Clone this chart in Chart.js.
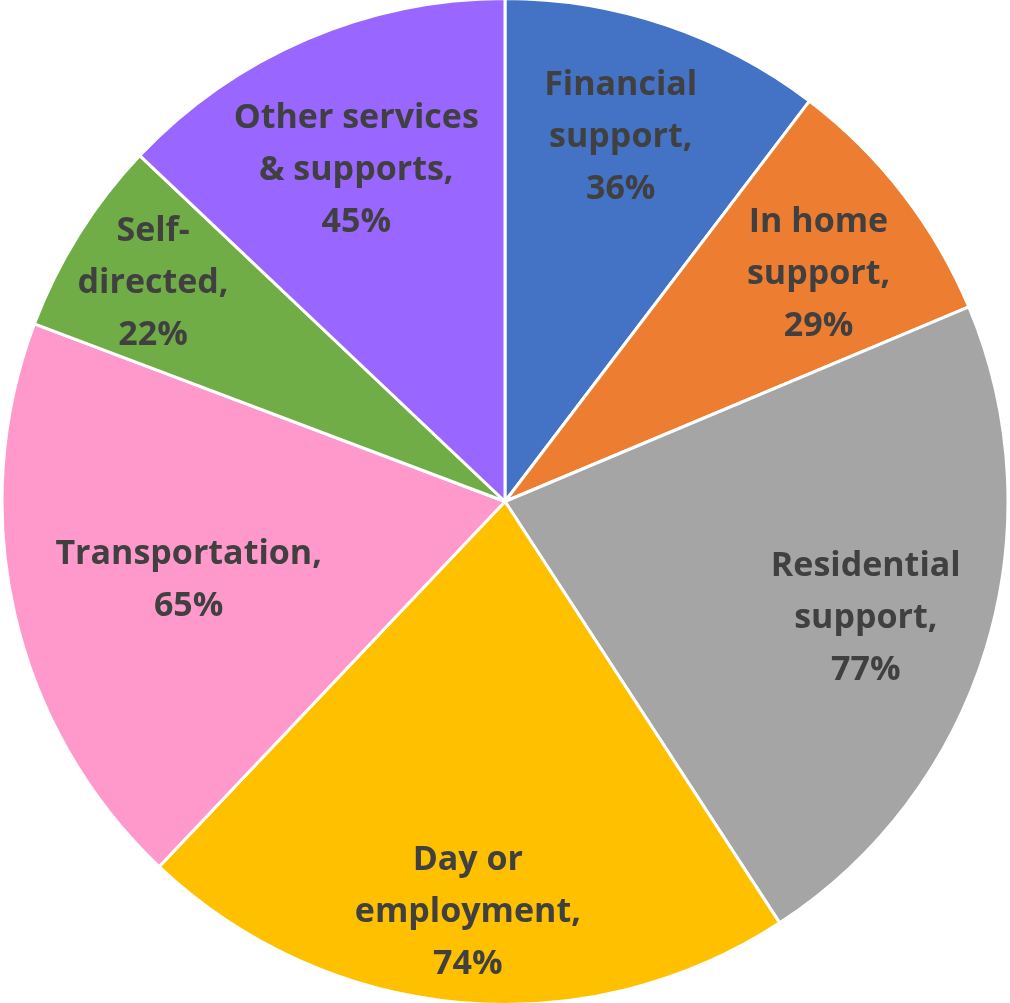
<!DOCTYPE html>
<html>
<head>
<meta charset="utf-8">
<script src="https://cdn.jsdelivr.net/npm/chart.js@4/dist/chart.umd.min.js"></script>
<style>
  html, body { margin: 0; padding: 0; background: #ffffff; overflow: hidden; }
  #wrap { position: absolute; left: -3px; top: -3px; width: 1016px; height: 1009px; }
</style>
</head>
<body>
<div id="wrap"><canvas id="pie"></canvas></div>
<script>
// Service categories (label lines) and the share of respondents using each
const categories = [
  ['Financial', 'support,'],
  ['In home', 'support,'],
  ['Residential', 'support,'],
  ['Day or', 'employment,'],
  ['Transportation,'],
  ['Self-', 'directed,'],
  ['Other services', '& supports,']
];
const percentValues = [36, 29, 77, 74, 65, 22, 45];
const sliceColors = ['#4472C4', '#ED7D31', '#A5A5A5', '#FFC000', '#FF99CC', '#70AD47', '#9966FF'];

// Label placement: distance from the centre (fraction of radius) and a small angular nudge (degrees)
const labelRadius = [0.76, 0.77, 0.754, 0.82, 0.648, 0.823, 0.722];
const labelNudge = [-1.0, 1.8, 0.9, 0, -1.0, -0.3, -0.9];

const LABEL_FONT = 'bold 34px "Open Sans", Lato, sans-serif';
const LINE_HEIGHT = 52;

const sliceLabels = {
  id: 'sliceLabels',
  afterDatasetsDraw(chart) {
    const ctx = chart.ctx;
    const meta = chart.getDatasetMeta(0);
    ctx.save();
    ctx.font = LABEL_FONT;
    ctx.fillStyle = '#404040';
    ctx.textAlign = 'center';
    ctx.textBaseline = 'middle';
    meta.data.forEach((arc, i) => {
      const p = arc.getProps(['x', 'y', 'startAngle', 'endAngle', 'outerRadius'], true);
      const mid = (p.startAngle + p.endAngle) / 2 + labelNudge[i] * Math.PI / 180;
      const r = p.outerRadius * labelRadius[i];
      const cx = p.x + Math.cos(mid) * r;
      const cy = p.y + Math.sin(mid) * r;
      const lines = categories[i].concat([percentValues[i] + '%']);
      const top = cy - (lines.length - 1) * LINE_HEIGHT / 2;
      lines.forEach((t, k) => ctx.fillText(t, cx, top + k * LINE_HEIGHT));
    });
    ctx.restore();
  }
};

new Chart(document.getElementById('pie'), {
  type: 'pie',
  data: {
    labels: categories.map(c => c.join(' ')),
    datasets: [{
      data: percentValues,
      backgroundColor: sliceColors,
      borderColor: '#ffffff',
      borderWidth: 3
    }]
  },
  options: {
    responsive: true,
    maintainAspectRatio: false,
    animation: false,
    layout: { padding: 0 },
    plugins: {
      legend: { display: false },
      tooltip: { enabled: false }
    }
  },
  plugins: [sliceLabels]
});
</script>
</body>
</html>
